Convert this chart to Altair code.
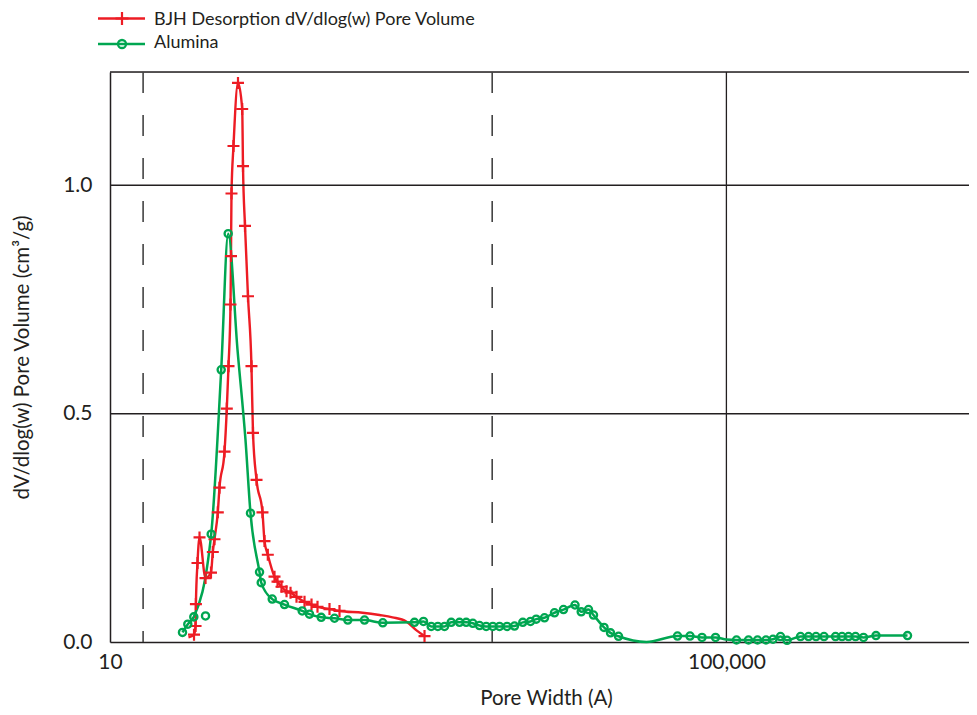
import altair as alt
import pandas as pd

# ---------------- data ----------------
red_w = [32.3, 35.09, 35.9, 36.1, 36.96, 38.1, 41.67, 45.22, 46.47, 47.65,
         50.07, 51.35, 55.34, 57.28, 58.75, 60.53, 60.98, 61.43, 63.29, 67.7,
         72.09, 72.95, 75.17, 78.6, 82.8, 84.7, 89.3, 97.6, 100.6, 105.7,
         116.8, 122.2, 129.7, 139.8, 148.4, 162.3, 182.9, 203.1, 222.1, 265.7,
         308.5, 435.0, 561.0, 681.2, 836.0, 970.5, 1099.0]
red_v = [0.010, 0.016, 0.035, 0.083, 0.173, 0.229, 0.140, 0.152, 0.197, 0.225,
         0.284, 0.338, 0.417, 0.511, 0.604, 0.739, 0.845, 0.982, 1.086, 1.224,
         1.167, 1.042, 0.911, 0.757, 0.604, 0.458, 0.355, 0.284, 0.221, 0.191,
         0.143, 0.132, 0.121, 0.111, 0.108, 0.099, 0.088, 0.082, 0.077, 0.072,
         0.068, 0.064, 0.059, 0.054, 0.045, 0.026, 0.013]
red_marker = [0] + [1] * 40 + [0] * 5 + [1]

green_w = [29.54, 31.98, 34.98, 45.36, 52.68, 58.48, 67.2, 75.7, 81.6, 93.4,
           95.8, 112.9, 135.6, 176.7, 197.1, 234.7, 286.4, 349.3, 448.3, 589.2,
           946, 1082, 1214, 1341, 1482, 1638, 1854, 2049, 2262, 2500,
           2762, 3049, 3370, 3770, 4216, 4773, 5355, 5832, 6600, 7663,
           8767, 10411, 11424, 12738, 13727, 16062, 17696, 19944, 30305, 48161,
           58050, 69440, 85000, 100140, 116300, 139100, 159200, 180700, 200700, 224400,
           247400, 302700, 341200, 381500, 429900, 510500, 562600, 620100, 688400, 775700,
           935000, 1497000]
green_v = [0.021, 0.039, 0.055, 0.236, 0.596, 0.894, 0.640, 0.443, 0.282, 0.153,
           0.130, 0.094, 0.082, 0.068, 0.061, 0.054, 0.052, 0.048, 0.048, 0.042,
           0.043, 0.045, 0.034, 0.034, 0.034, 0.043, 0.043, 0.043, 0.041, 0.036,
           0.034, 0.034, 0.034, 0.034, 0.035, 0.043, 0.045, 0.050, 0.053, 0.064,
           0.071, 0.081, 0.066, 0.071, 0.059, 0.032, 0.020, 0.0125, 0.0, 0.013,
           0.013, 0.010, 0.0099, 0.0055, 0.0044, 0.0044, 0.0044, 0.0044, 0.006, 0.012,
           0.0037, 0.012, 0.012, 0.012, 0.012, 0.012, 0.012, 0.012, 0.012, 0.010,
           0.014, 0.014]
green_marker = [1] * 72
for i in (6, 7, 48, 53):
    green_marker[i] = 0

green_extra_w = [41.67]
green_extra_v = [0.057]

hline_v = [0.5, 1.0, 1.248]
vline_solid_w = [100000]
vline_dashed_w = [16.4, 3021]

x_ticks = [10, 100000]
y_ticks = [0.0, 0.5, 1.0]
legend_labels = ["BJH Desorption dV/dlog(w) Pore Volume", "Alumina"]

X_DOMAIN = [10, 3752000]
Y_DOMAIN = [0, 1.248]

RED = "#ED1C24"
GREEN = "#00A651"
INK = "#231F20"
FONT = "Lato"

W, H = 859, 570

red_df = pd.DataFrame({"w": red_w, "v": red_v, "m": red_marker})
green_df = pd.DataFrame({"w": green_w, "v": green_v, "m": green_marker})
extra_df = pd.DataFrame({"w": green_extra_w, "v": green_extra_v})
hl_df = pd.DataFrame({"v": hline_v})
vs_df = pd.DataFrame({"w": vline_solid_w})
vd_df = pd.DataFrame({"w": vline_dashed_w})

xscale = alt.Scale(type="log", domain=X_DOMAIN, nice=False)
yscale = alt.Scale(domain=Y_DOMAIN, nice=False, zero=False)

xaxis = alt.Axis(values=x_ticks, format=",", grid=False, ticks=False,
                 domainColor=INK, domainWidth=1.5, labelFlush=False,
                 labelFont=FONT, labelFontSize=21, labelColor=INK, labelPadding=9,
                 title="Pore Width (A)", titleFont=FONT, titleFontSize=20.5,
                 titleFontWeight="normal", titleColor=INK,
                 titleX=436, titleY=56, titleBaseline="middle", titleAlign="center")
yaxis = alt.Axis(values=y_ticks, format=".1f", grid=False, ticks=False,
                 domainColor=INK, domainWidth=1.5,
                 labelFont=FONT, labelFontSize=21, labelColor=INK, labelPadding=18,
                 title="dV/dlog(w) Pore Volume (cm³/g)", titleFont=FONT, titleFontSize=20.5,
                 titleFontWeight="normal", titleColor=INK,
                 titleX=-88, titleY=H / 2, titleAngle=270,
                 titleBaseline="middle", titleAlign="center")

X = alt.X("w:Q", scale=xscale, axis=xaxis)
Y = alt.Y("v:Q", scale=yscale, axis=yaxis)
Xn = alt.X("w:Q", scale=xscale)
Yn = alt.Y("v:Q", scale=yscale)

hlines = alt.Chart(hl_df).mark_rule(color=INK, strokeWidth=1.5).encode(y=Yn)
vsolid = alt.Chart(vs_df).mark_rule(color=INK, strokeWidth=1.3).encode(x=Xn)
vdash = alt.Chart(vd_df).mark_rule(color="#444444", strokeWidth=1.6,
                                   strokeDash=[21, 22]).encode(x=Xn)

red_line = alt.Chart(red_df).mark_line(color=RED, strokeWidth=2.4,
                                       interpolate="monotone").encode(x=X, y=Y)
green_line = alt.Chart(green_df).mark_line(color=GREEN, strokeWidth=2.5,
                                           interpolate="monotone").encode(x=Xn, y=Yn)

CROSS = "M-1,0H1M0,-1V1"
red_pts = alt.Chart(red_df).transform_filter("datum.m == 1").mark_point(
    shape=CROSS, size=144, filled=False, color=RED, strokeWidth=2.2, opacity=1
).encode(x=Xn, y=Yn)
green_pts = alt.Chart(green_df).transform_filter("datum.m == 1").mark_point(
    shape="circle", size=52, filled=False, color=GREEN, strokeWidth=2.3, opacity=1
).encode(x=Xn, y=Yn)
green_extra = alt.Chart(extra_df).mark_point(
    shape="circle", size=52, filled=False, color=GREEN, strokeWidth=2.3, opacity=1
).encode(x=Xn, y=Yn)

# ---------------- legend (drawn above the plot) ----------------
lg_red = pd.DataFrame({"t": [legend_labels[0]]})
lg_green = pd.DataFrame({"t": [legend_labels[1]]})

RY, GY = -53.5, -28
leg = []
leg.append(alt.Chart(lg_red).mark_rule(color=RED, strokeWidth=2.4).encode(
    x=alt.value(-12), x2=alt.value(35), y=alt.value(RY)))
leg.append(alt.Chart(lg_red).mark_point(shape=CROSS, size=169, filled=False, color=RED,
                                        strokeWidth=2.2, opacity=1).encode(
    x=alt.value(12), y=alt.value(RY)))
leg.append(alt.Chart(lg_red).mark_text(align="left", baseline="middle", font=FONT,
                                       fontSize=18, color=INK).encode(
    x=alt.value(44), y=alt.value(RY + 1.5), text="t:N"))
leg.append(alt.Chart(lg_green).mark_rule(color=GREEN, strokeWidth=2.5).encode(
    x=alt.value(-12), x2=alt.value(35), y=alt.value(GY)))
leg.append(alt.Chart(lg_green).mark_point(shape="circle", size=64, filled=False, color=GREEN,
                                          strokeWidth=2.3, opacity=1).encode(
    x=alt.value(12), y=alt.value(GY)))
leg.append(alt.Chart(lg_green).mark_text(align="left", baseline="middle", font=FONT,
                                         fontSize=18, color=INK).encode(
    x=alt.value(44), y=alt.value(GY - 1), text="t:N"))

chart = alt.layer(
    red_line, hlines, vsolid, vdash, green_line, red_pts, green_pts, green_extra, *leg
).resolve_scale(x="shared", y="shared").properties(
    width=W, height=H,
    autosize=alt.AutoSizeParams(type="none"),
    padding={"left": 102, "top": 64, "right": 0, "bottom": 70},
).configure_view(stroke=None).configure(background="white")

chart.save("out.html", embed_options={"renderer": "svg", "actions": False})
